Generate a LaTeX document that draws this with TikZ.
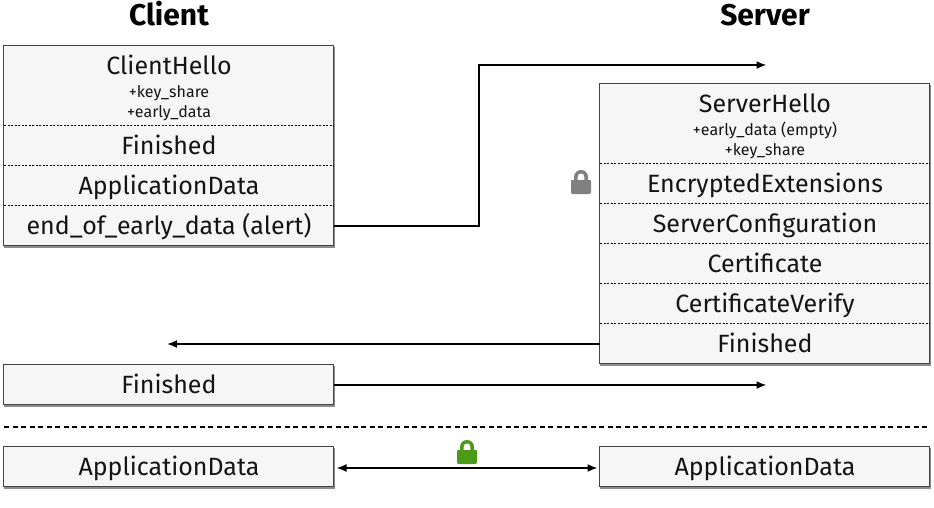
\documentclass[tikz,border=0pt]{standalone}
\usepackage{fontspec}
\setmainfont{Fira Sans}
\usetikzlibrary{shadows,arrows.meta}
\definecolor{boxfill}{HTML}{F6F6F6}
\definecolor{boxline}{HTML}{444444}
\definecolor{lockgreen}{HTML}{4C9A1A}
\definecolor{lockgray}{HTML}{808080}
\tikzset{
  x=1pt,y=-1pt,
  frame/.style={draw=boxline,line width=1pt,fill=boxfill,general shadow={shadow xshift=0.4pt,shadow yshift=-1.3pt,fill=black!45,draw=black!45,line width=1pt}},
  cell/.style={inner sep=0pt,anchor=base,font=\fontsize{25}{25}\selectfont,text=black!92},
  sub/.style={inner sep=0pt,anchor=base,font=\fontsize{16}{16}\selectfont,text=black!92},
  head/.style={inner sep=0pt,anchor=base,font=\fontsize{30}{30}\selectfont\bfseries},
  divider/.style={line width=0.9pt,dash pattern=on 2pt off 1.5pt},
  sep/.style={line width=1.4pt,dash pattern=on 5pt off 3.5pt},
  conn/.style={line width=1.7pt,draw=black,-{Latex[length=10pt,width=8pt]}},
  connboth/.style={line width=1.7pt,draw=black,{Latex[length=10pt,width=8pt]}-{Latex[length=10pt,width=8pt]}},
  lockicon/.pic={
    \fill[pic actions,even odd rule]
      (-10,-1) -- (-10,10) .. controls (-10,11.5) and (-9,12) .. (-8,12) -- (8,12) .. controls (9,12) and (10,11.5) .. (10,10) -- (10,-1) .. controls (10,-1.6) and (9.5,-2) .. (8,-2) -- (7,-2)
      -- (7,-5) .. controls (7,-9.5) and (3.5,-12) .. (0,-12) .. controls (-3.5,-12) and (-7,-9.5) .. (-7,-5) -- (-7,-2) -- (-8,-2) .. controls (-9.5,-2) and (-10,-1.6) .. (-10,-1) -- cycle
      (-3.4,-2) -- (3.4,-2) -- (3.4,-5) .. controls (3.4,-7.5) and (2,-8.6) .. (0,-8.6) .. controls (-2,-8.6) and (-3.4,-7.5) .. (-3.4,-5) -- cycle;
  }
}
\begin{document}
\begin{tikzpicture}
\useasboundingbox (0,0) rectangle (934,507);
% frames
\path[frame] (3.9,45.8) rectangle (333.9,245.8);
\path[frame] (599.9,83.8) rectangle (929.9,363.8);
\path[frame] (3.9,364.8) rectangle (333.9,404.8);
\path[frame] (3.9,446.8) rectangle (333.9,486.8);
\path[frame] (599.9,446.8) rectangle (929.9,486.8);
% dividers
\foreach \y in {125.5,165.5,205.5} \draw[divider] (4,\y) -- (334,\y);
\foreach \y in {163.5,203.5,243.5,283.5,323.5} \draw[divider] (600,\y) -- (930,\y);
\draw[sep] (4,427) -- (930,427);
% titles
\node[head] (client) at (169,25) {Client};
\node[head] (server) at (765,25) {Server};
% client messages
\node[cell] (ch) at (169,74.4) {ClientHello};
\node[sub] at (169,97.5) {+key\_share};
\node[sub] at (169,117.5) {+early\_data};
\node[cell] (cfin) at (169,154.4) {Finished};
\node[cell] (cad) at (169,194.4) {ApplicationData};
\coordinate (eodeast) at (334,226);
\node[cell] (eod) at (169,234.4) {end\_of\_early\_data (alert)};
% server messages
\node[cell] (sh) at (765,112.6) {ServerHello};
\node[sub] at (765,135.5) {+early\_data (empty)};
\node[sub] at (765,155) {+key\_share};
\node[cell] (ee) at (765,192.6) {EncryptedExtensions};
\node[cell] (sc) at (765,232.6) {ServerConfiguration};
\node[cell] (cert) at (765,272.6) {Certificate};
\node[cell] (cv) at (765,312.6) {CertificateVerify};
\node[cell] (sfin) at (765,352.6) {Finished};
\coordinate (sfinwest) at (600,344);
% bottom
\node[cell] (cf2) at (169,393.9) {Finished};
\coordinate (cf2east) at (334,385);
\node[cell] (ad1) at (169,475) {ApplicationData};
\node[cell] (ad2) at (765,475) {ApplicationData};
\coordinate (ad1east) at (336.5,468);
\coordinate (ad2west) at (597.5,468);
% free ends
\coordinate (bend1) at (479,226);
\coordinate (bend2) at (479,65);
\coordinate (sfree) at (766.5,65);
\coordinate (cfree) at (167,344);
\coordinate (sfree2) at (766.5,385);
% connectors
\draw[conn] (eodeast) -- (bend1) -- (bend2) -- (sfree);
\draw[conn] (sfinwest) -- (cfree);
\draw[conn] (cf2east) -- (sfree2);
\draw[connboth] (ad1east) -- (ad2west);
% locks
\pic[fill=lockgray] at (581,182) {lockicon};
\pic[fill=lockgreen] at (467,452) {lockicon};
\end{tikzpicture}
\end{document}
